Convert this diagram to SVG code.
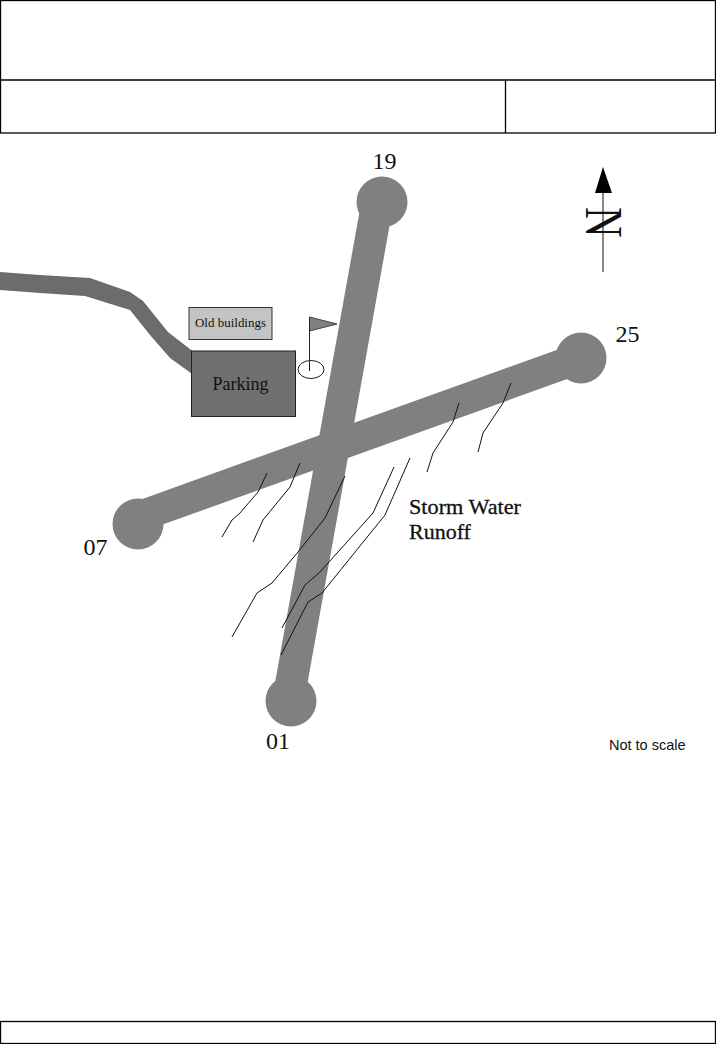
<svg xmlns="http://www.w3.org/2000/svg" width="716" height="1044" viewBox="0 0 716 1044">
<style>
.frame{fill:none;stroke:#000;stroke-width:1.3}
.strip{fill:none;stroke:#808080;stroke-linecap:butt}
.end{fill:#808080}
.run{fill:none;stroke:#111;stroke-width:1}
text{font-family:"Liberation Serif",serif;fill:#111}
</style>
<rect width="716" height="1044" fill="#fff"/>
<g id="title-block">
<rect class="frame" x="0.5" y="0.5" width="715" height="132.5"/>
<path class="frame" d="M0 80H715M505.500 80V133"/>
</g>
<g id="footer-block"><rect class="frame" x="0.500" y="1021.500" width="715" height="22"/></g>
<g id="road"><path fill="#6c6c6c" d="M0 272L40 275L90 278L130 292L143 301L168 332L195 353V376L170 358L150 335L130 310L85 296L40 293L0 290Z"/></g>
<g id="runway-01-19">
<path class="strip" stroke-width="32" d="M377 205L288 701"/>
<circle class="end" cx="382" cy="202" r="25.500"/><circle class="end" cx="291" cy="701" r="25.500"/>
<text x="384.500" y="169" font-size="24" text-anchor="middle">19</text>
<text x="278" y="749" font-size="24" text-anchor="middle">01</text>
</g>
<g id="runway-07-25">
<path class="strip" stroke-width="31" d="M138 517L580 358"/>
<circle class="end" cx="138" cy="524" r="25.500"/><circle class="end" cx="581" cy="358" r="25.500"/>
<text x="95.500" y="555" font-size="24" text-anchor="middle">07</text>
<text x="627.500" y="342" font-size="24" text-anchor="middle">25</text>
</g>
<g id="old-buildings">
<rect x="189" y="307.500" width="83" height="32" fill="#c4c4c4" stroke="#333" stroke-width="1"/>
<text x="230.500" y="327" font-size="12" text-anchor="middle" textLength="71" lengthAdjust="spacingAndGlyphs">Old buildings</text>
</g>
<g id="parking">
<rect x="191.500" y="351" width="104" height="65.500" fill="#707070" stroke="#222" stroke-width="1"/>
<text x="240.500" y="390" font-size="18" text-anchor="middle" fill="#222">Parking</text>
</g>
<g id="flag">
<ellipse cx="311" cy="369.500" rx="13" ry="9" fill="#fff" stroke="#222"/>
<path d="M309.500 317L337 324L309.500 331Z" fill="#808080" stroke="#444" stroke-width="1"/>
<path d="M309.500 317V371" stroke="#222" fill="none"/>
</g>
<g id="runoff-lines">
<path class="run" d="M267 473L258 492L240 513L232 520L222 537"/>
<path class="run" d="M300 463L290 487L263 520L253 542"/>
<path class="run" d="M345 476L325 518L298 552L272 583L257 593L232 637"/>
<path class="run" d="M394 467L373 513L320 572L305 585L282 628"/>
<path class="run" d="M410 458L385 515L322 593L308 602L281 655"/>
<path class="run" d="M459 403L453 422L433 453L427 472"/>
<path class="run" d="M511 383L503 403L483 433L478 452"/>
</g>
<g id="runoff-label">
<text x="409" y="514" font-size="22" stroke="#111" stroke-width="0.300" textLength="112" lengthAdjust="spacingAndGlyphs">Storm Water</text>
<text x="409" y="539" font-size="22" stroke="#111" stroke-width="0.300">Runoff</text>
</g>
<g id="north-arrow">
<path d="M603 167L612 193H595Z" fill="#000"/>
<path d="M603 190V272" stroke="#111" fill="none" stroke-width="1"/>
<text transform="translate(586 207) rotate(90) scale(0.8 1)" font-size="53">N</text>
</g>
<g id="scale-note"><text x="609" y="750" font-size="14.500" style="font-family:'Liberation Sans',sans-serif">Not to scale</text></g>
</svg>
